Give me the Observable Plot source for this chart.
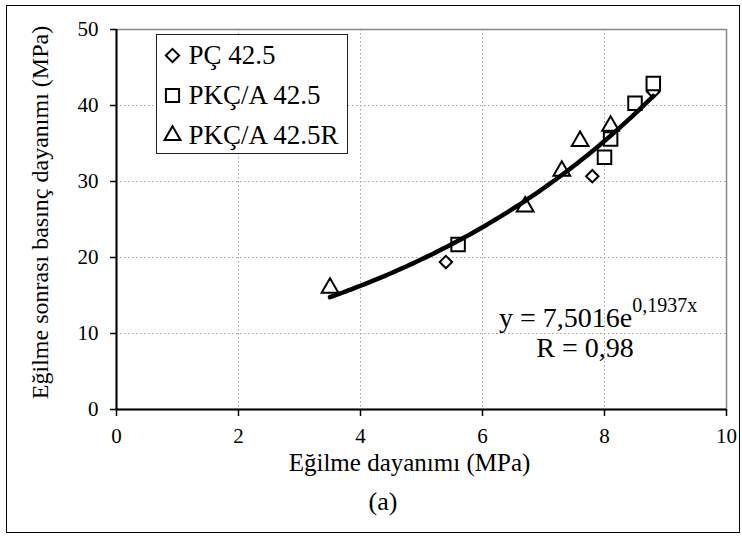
<!DOCTYPE html>
<html><head><meta charset="utf-8">
<script src="https://cdn.jsdelivr.net/npm/d3@7"></script>
<script src="https://cdn.jsdelivr.net/npm/@observablehq/plot@0.6"></script>
<style>
body{margin:0;background:#fff;}
#wrap{position:relative;width:742px;height:537px;font-family:"Liberation Serif","Times New Roman",serif;color:#000;overflow:hidden}
#chart{position:absolute;left:0;top:0}
#border{position:absolute;left:6px;top:5px;width:734px;height:528px;border:1.5px solid #000;box-sizing:border-box;pointer-events:none}
#legend{position:absolute;left:156px;top:34px;width:192px;height:120px;border:1.5px solid #222;box-sizing:border-box;background:#fff}
#legend svg{display:block}
#caption{position:absolute;left:0;width:766px;top:487px;text-align:center;font-size:26px;line-height:30px}
.eq{position:absolute;font-size:28px;line-height:28px;white-space:nowrap}
.eq .sup{font-size:20px;position:relative;top:-15px}
</style></head>
<body><div id="wrap"><div id="chart"></div><div id="legend"></div>
<div class="eq" id="eq1"></div><div class="eq" id="eq2"></div>
<div id="caption"></div><div id="border"></div></div>
<script>
// ---- data ----
const seriesNames = ["PÇ 42.5", "PKÇ/A 42.5", "PKÇ/A 42.5R"];
const pcX   = [5.4, 7.8, 8.8];
const pcY   = [19.4, 30.7, 41.8];
const pkcX  = [5.6, 8.0, 8.1, 8.5, 8.8];
const pkcY  = [21.7, 33.2, 35.6, 40.3, 42.9];
const pkcRX = [3.5, 6.7, 7.3, 7.6, 8.1];
const pkcRY = [16.0, 26.7, 31.4, 35.3, 37.3];
const xTicks = [0, 2, 4, 6, 8, 10];
const yTicks = [0, 10, 20, 30, 40, 50];
const xTitle = "Eğilme dayanımı (MPa)";
const yTitle = "Eğilme sonrası basınç dayanımı (MPa)";
const caption = "(a)";
// exponential trend line shown on the chart: y = 7,5016 e^(0,1937x), R = 0,98
const fitA = 7.5016, fitB = 0.1937;
const fitRange = [3.5, 8.8];
const eqMain = "y = 7,5016e", eqExp = "0,1937x", eqR = "R = 0,98";

const toPts = (xs, ys) => xs.map((x, i) => ({x, y: ys[i]}));
const pc = toPts(pcX, pcY), pkc = toPts(pkcX, pkcY), pkcR = toPts(pkcRX, pkcRY);
const fitX = d3.range(fitRange[0], fitRange[1], 0.05).concat([fitRange[1]]);
const fit = fitX.map(x => ({x, y: fitA * Math.exp(fitB * x)}));

const FF = "Liberation Serif";
const mk = {stroke: "#000", fill: "#fff", strokeWidth: 2};

const chart = Plot.plot({
  width: 742, height: 537,
  marginLeft: 116, marginRight: 16, marginTop: 29, marginBottom: 128,
  style: {background: "transparent", color: "#000"},
  x: {domain: [xTicks[0], xTicks[xTicks.length - 1]]},
  y: {domain: [yTicks[0], yTicks[yTicks.length - 1]]},
  marks: [
    Plot.gridX(xTicks, {stroke: "#a0a0a0", strokeOpacity: 1, strokeDasharray: "1.5,2.5"}),
    Plot.gridY(yTicks, {stroke: "#a0a0a0", strokeOpacity: 1, strokeDasharray: "1.5,2.5"}),
    Plot.frame({stroke: "#888", strokeWidth: 1.5}),
    Plot.ruleX([xTicks[0]], {stroke: "#000", strokeWidth: 2}),
    Plot.ruleY([yTicks[0]], {stroke: "#000", strokeWidth: 2}),
    Plot.axisX(xTicks, {tickSize: 7, tickPadding: 12, fontSize: 21, fontFamily: FF, label: null, strokeWidth: 1.5}),
    Plot.axisY(yTicks, {tickSize: 6, tickPadding: 12, fontSize: 21, fontFamily: FF, label: null, strokeWidth: 1.5}),
    Plot.dot(pc, {x: "x", y: "y", symbol: "diamond2", r: 5.6, ...mk}),
    Plot.dot(pkc, {x: "x", y: "y", symbol: "square2", r: 8.6, ...mk}),
    Plot.dot(pkcR, {x: "x", y: "y", symbol: "triangle2", r: 8, ...mk}),
    Plot.line(fit, {x: "x", y: "y", stroke: "#000", strokeWidth: 4.5}),
    Plot.text([xTitle], {text: d => d, frameAnchor: "bottom", dx: -12, dy: 61, fontSize: 25, fontFamily: FF}),
    Plot.text([yTitle], {text: d => d, frameAnchor: "left", textAnchor: "middle", rotate: -90, dx: -76, dy: -7, fontSize: 24, fontFamily: FF})
  ]
});
document.getElementById("chart").appendChild(chart);

const legend = Plot.plot({
  width: 189, height: 117, margin: 0,
  style: {background: "transparent", color: "#000"},
  x: {axis: null, domain: [0, 1]},
  y: {axis: null, type: "point", padding: 0, domain: seriesNames, range: [19.5, 100.5]},
  marks: [
    Plot.dot([seriesNames[0]], {y: d => d, frameAnchor: "left", dx: 15, symbol: "diamond2", r: 6, ...mk}),
    Plot.dot([seriesNames[1]], {y: d => d, frameAnchor: "left", dx: 15, symbol: "square2", r: 8.4, ...mk}),
    Plot.dot([seriesNames[2]], {y: d => d, frameAnchor: "left", dx: 15, symbol: "triangle2", r: 7.6, ...mk}),
    Plot.text(seriesNames, {y: d => d, text: d => d, frameAnchor: "left", dx: 31, textAnchor: "start", fontSize: 27, fontFamily: FF})
  ]
});
document.getElementById("legend").appendChild(legend);

// keep the serif face on every SVG text
for (const svg of [chart, legend]) {
  svg.setAttribute("font-family", FF);
  svg.style.setProperty("font-family", "'Liberation Serif', serif", "important");
  svg.querySelectorAll("text, g").forEach(el => {
    el.setAttribute("font-family", FF);
    el.style.setProperty("font-family", "'Liberation Serif', serif", "important");
  });
}

const eq1 = document.getElementById("eq1");
eq1.style.left = "499px"; eq1.style.top = "304px";
eq1.appendChild(document.createTextNode(eqMain));
const sup = document.createElement("span"); sup.className = "sup"; sup.textContent = eqExp;
eq1.appendChild(sup);
const eq2 = document.getElementById("eq2");
eq2.style.left = "485px"; eq2.style.top = "334px"; eq2.style.width = "200px"; eq2.style.textAlign = "center";
eq2.textContent = eqR;
document.getElementById("caption").textContent = caption;
</script>
</body></html>
